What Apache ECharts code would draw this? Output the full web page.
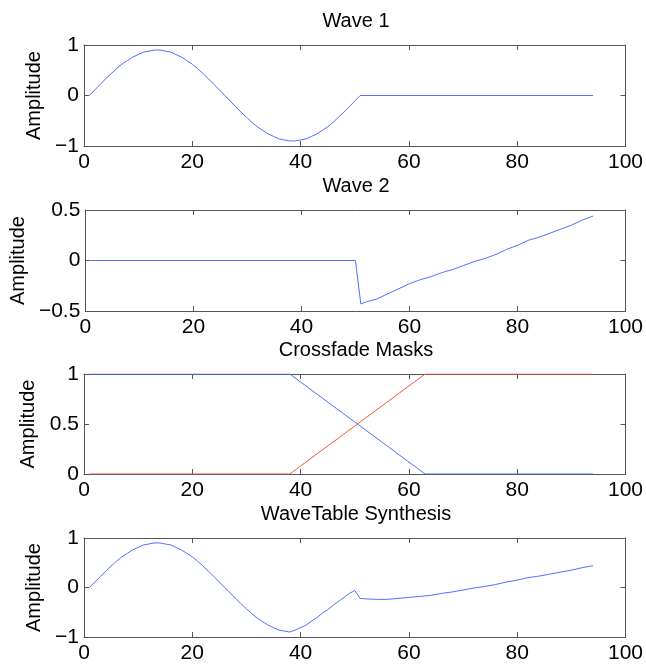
<!DOCTYPE html>
<html>
<head>
<meta charset="utf-8">
<script src="https://cdn.jsdelivr.net/npm/echarts@6/dist/echarts.min.js"></script>
<style>
html,body{margin:0;padding:0;background:#fff;}
#c{width:646px;height:664px;}
</style>
</head>
<body>
<div id="c"></div>
<script>
// ---- data ----
const panelTitles = ['Wave 1', 'Wave 2', 'Crossfade Masks', 'WaveTable Synthesis'];
const yAxisName = 'Amplitude';
const xTicks = [0, 20, 40, 60, 80, 100];
const yRanges = [[-1, 1, 1], [-0.5, 0.5, 0.5], [0, 1, 0.5], [-1, 1, 1]];

const wave1 = [
  [1,0],[2,0.11],[3,0.22],[4,0.33],[5,0.43],[6,0.53],[7,0.62],[8,0.69],[9,0.76],[10,0.81],
  [11,0.86],[12,0.88],[13,0.90],[14,0.90],[15,0.88],[16,0.86],[17,0.81],[18,0.76],[19,0.69],[20,0.62],
  [21,0.53],[22,0.43],[23,0.33],[24,0.22],[25,0.11],[26,0],[27,-0.11],[28,-0.22],[29,-0.33],[30,-0.43],
  [31,-0.53],[32,-0.62],[33,-0.69],[34,-0.76],[35,-0.81],[36,-0.86],[37,-0.88],[38,-0.90],[39,-0.90],[40,-0.88],
  [41,-0.86],[42,-0.81],[43,-0.76],[44,-0.69],[45,-0.62],[46,-0.53],[47,-0.43],[48,-0.33],[49,-0.22],[50,-0.11],
  [51,0],[94,0]
];

const wave2 = [
  [1,0],[50,0],[51,-0.43],[52,-0.41],[54,-0.38],[56,-0.33],[58,-0.28],[60,-0.23],[62,-0.19],[64,-0.16],
  [66,-0.12],[68,-0.09],[70,-0.05],[72,-0.01],[74,0.02],[76,0.06],[78,0.11],[80,0.15],[82,0.20],[84,0.23],
  [86,0.27],[88,0.31],[90,0.35],[92,0.40],[94,0.44]
];

const maskFadeOut = [[1,1],[38,1],[63,0],[94,0]];
const maskFadeIn  = [[1,0],[38,0],[63,1],[94,1]];

const synthesis = [
  [1,0],[2,0.11],[3,0.22],[4,0.33],[5,0.43],[6,0.53],[7,0.62],[8,0.69],[9,0.76],[10,0.81],
  [11,0.86],[12,0.88],[13,0.90],[14,0.90],[15,0.88],[16,0.86],[17,0.81],[18,0.76],[19,0.69],[20,0.62],
  [21,0.53],[22,0.43],[23,0.33],[24,0.22],[25,0.11],[26,0],[27,-0.11],[28,-0.22],[29,-0.33],[30,-0.43],
  [31,-0.53],[32,-0.62],[33,-0.69],[34,-0.76],[35,-0.81],[36,-0.86],[37,-0.88],[38,-0.90],[39,-0.86],[40,-0.81],
  [41,-0.76],[42,-0.68],[43,-0.61],[44,-0.52],[45,-0.45],[46,-0.36],[47,-0.28],[48,-0.20],[49,-0.12],[50,-0.06],
  [51,-0.22],[52,-0.23],[54,-0.24],[56,-0.24],[58,-0.22],[60,-0.20],[62,-0.18],[64,-0.16],[66,-0.12],[68,-0.09],
  [70,-0.05],[72,-0.01],[74,0.02],[76,0.06],[78,0.11],[80,0.15],[82,0.20],[84,0.23],[86,0.27],[88,0.31],
  [90,0.35],[92,0.40],[94,0.44]
];

// ---- styling / layout ----
const FONT = '"Liberation Sans", Arial, Helvetica, sans-serif';
const BLUE = '#5070ff';
const RED = '#f0573c';
const AXC = '#555555';
const grids = [
  {left: 84, top: 45, width: 544, height: 101},
  {left: 84, top: 210, width: 544, height: 101},
  {left: 84, top: 374, width: 544, height: 100},
  {left: 84, top: 538, width: 544, height: 102}
];
const titleY = [21, 186, 350, 514];

const fmt = v => String(v).replace('-', '\u2212');

const xAxes = [], yAxes = [], graphics = [];
grids.forEach((g, i) => {
  const base = {
    type: 'value', gridIndex: i, min: xTicks[0], max: xTicks[xTicks.length - 1],
    interval: xTicks[1] - xTicks[0],
    axisLine: {show: true, onZero: false, lineStyle: {color: AXC, width: 1}},
    axisTick: {show: true, inside: true, length: 5, lineStyle: {color: AXC}},
    splitLine: {show: false}
  };
  xAxes.push(Object.assign({}, base, {
    position: 'bottom',
    axisLabel: {show: true, color: '#000', fontSize: 21, fontFamily: FONT, margin: 6, formatter: fmt}
  }));
  xAxes.push(Object.assign({}, base, {position: 'top', axisLabel: {show: false}}));
  const [mn, mx, step] = yRanges[i];
  const yb = {
    type: 'value', gridIndex: i, min: mn, max: mx, interval: step,
    axisLine: {show: true, onZero: false, lineStyle: {color: AXC, width: 1}},
    axisTick: {show: true, inside: true, length: 5, lineStyle: {color: AXC}},
    splitLine: {show: false}
  };
  yAxes.push(Object.assign({}, yb, {
    position: 'left',
    name: yAxisName, nameLocation: 'middle', nameGap: 27,
    nameTextStyle: {color: '#000', fontSize: 20, fontFamily: FONT},
    axisLabel: {show: true, color: '#000', fontSize: 21, fontFamily: FONT, margin: 5, formatter: fmt}
  }));
  yAxes.push(Object.assign({}, yb, {position: 'right', axisLabel: {show: false}}));
  graphics.push({
    type: 'text', x: g.left + g.width / 2, y: titleY[i],
    style: {text: panelTitles[i], fill: '#000', font: '20px ' + FONT, textAlign: 'center', textVerticalAlign: 'middle'}
  });
});

function line(data, axisIdx, color) {
  return {
    type: 'line', data: data, xAxisIndex: axisIdx * 2, yAxisIndex: axisIdx * 2,
    showSymbol: false, symbol: 'none', animation: false, z: 3,
    lineStyle: {color: color, width: 1}, itemStyle: {color: color}
  };
}

const chart = echarts.init(document.getElementById('c'), null, {renderer: 'canvas'});
chart.setOption({
  animation: false,
  backgroundColor: '#ffffff',
  grid: grids,
  xAxis: xAxes,
  yAxis: yAxes,
  graphic: graphics,
  series: [
    line(wave1, 0, BLUE),
    line(wave2, 1, BLUE),
    line(maskFadeOut, 2, BLUE),
    line(maskFadeIn, 2, RED),
    line(synthesis, 3, BLUE)
  ]
});
</script>
</body>
</html>
